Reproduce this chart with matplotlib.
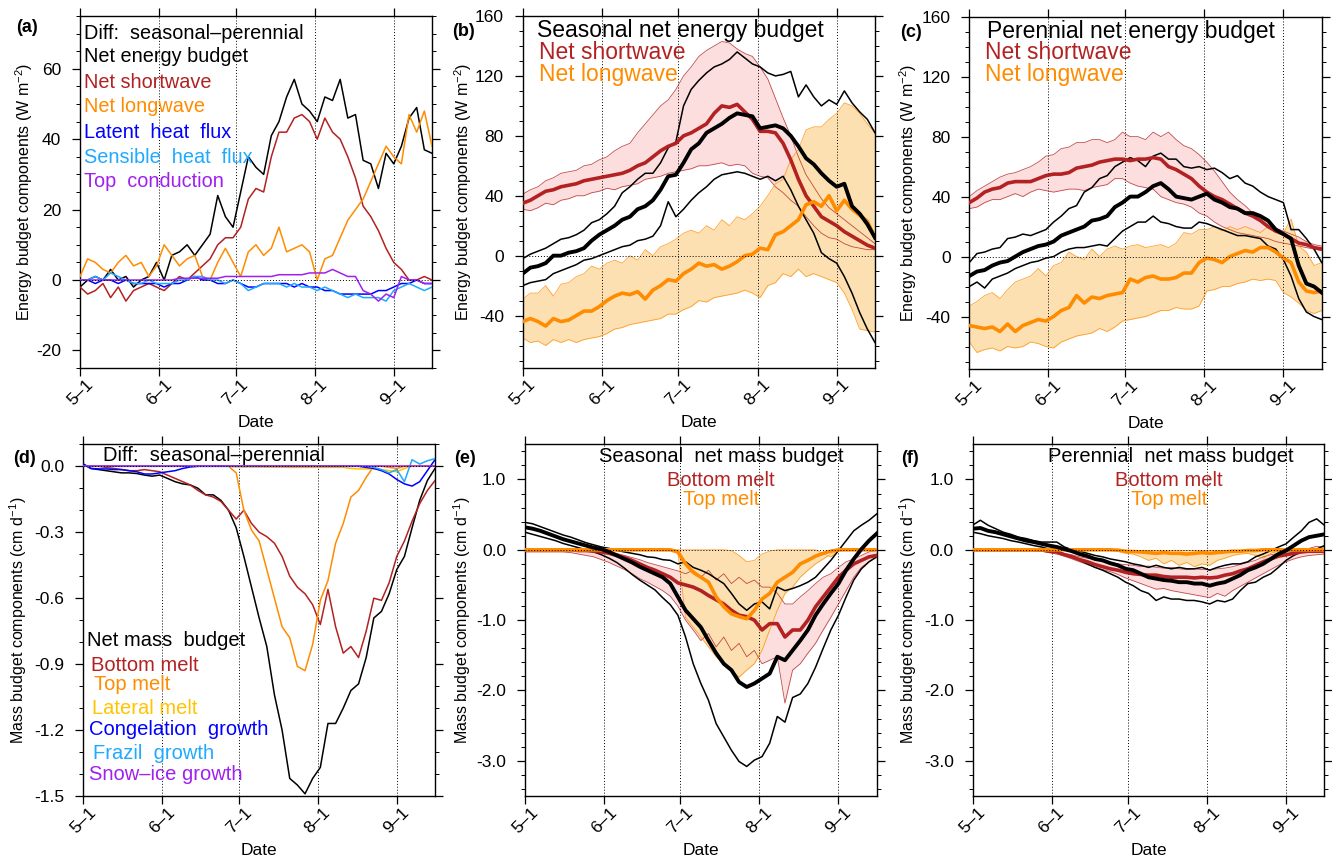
import numpy as np
import matplotlib
matplotlib.use("Agg")
import matplotlib.pyplot as plt
from matplotlib.ticker import MultipleLocator

plt.rcParams["font.family"] = ["Liberation Sans", "DejaVu Sans"]
plt.rcParams["axes.unicode_minus"] = False
plt.rcParams["mathtext.default"] = "regular"

# days since May 1, one reading every third day (0 .. 138)
days = np.arange(0, 139, 3)
month_days = [0, 31, 61, 92, 123]
month_labels = ["5–1", "6–1", "7–1", "8–1", "9–1"]

RED = "#B22222"
ORANGE = "#FF8C00"
PINK_FILL = "#FDDEDE"
ORANGE_FILL = "#FDE0B2"

# ---- (a) energy budget difference, seasonal - perennial (W m-2)
a_net = [-2, 0, 1, 0, 3, 0, 1, -2, 0, 1, 5, 0, 7, 8, 10, 7, 10, 13, 24, 18, 15, 25, 35, 32, 30, 41, 45, 52, 57, 50, 48, 45, 52, 51, 57, 46, 47, 34, 33, 26, 36, 33, 38, 46, 49, 37, 36]
a_sw = [-2, -4, -3, -1, -5, -2, -6, -3, -2, -1, -2, -3, -1, 1, 0, 2, 4, 6, 10, 12, 12, 15, 23, 26, 25, 35, 42, 42, 46, 47, 45, 40, 46, 42, 40, 35, 29, 21, 18, 14, 9, 5, 3, 0, 0, 1, 0]
a_lw = [1, 6, 5, 3, 2, 5, 7, 4, 5, 1, 4, 10, 7, 4, 6, 7, 1, 0, 5, 9, 5, 1, 8, 10, 7, 9, 15, 8, 9, 10, 8, 0, 6, 7, 12, 17, 20, 23, 28, 33, 38, 35, 33, 47, 42, 48, 38]
a_lat = [0, 0, -1, 0, 0, -1, 0, -1, -1, -1, -1, -2, -1, -1, 0, 1, 0, 0, -1, -1, 0, -1, -2, -2, -1, -1, -1, -1, -2, -1, -2, -2, -3, -3, -4, -4, -4, -4, -4, -3, -3, -2, -1, -1, 0, -1, -1]
a_sen = [0, 0, 1, 0, 2, 1, 0, -1, -1, 0, -1, -1, -1, 0, 0, 1, 1, 0, 0, -1, 0, -1, -3, -2, -1, -1, -1, -2, -1, -2, -2, -3, -2, -3, -4, -5, -4, -5, -5, -5, -6, -3, -2, -1, -2, -3, -2]
a_cond = [0, 0, 0, 0, 0, 0, 0, 0, 0, 0, 0, 0, 0, 0.5, 0.5, 0.5, 0.5, 0.5, 0.5, 1, 1, 1, 1, 1, 1, 1, 1.5, 1.5, 1.5, 1.5, 2, 2, 2, 3, 2, 1, 1, -3, -4, -6, -4, -5, 1, 0, 0, -1, -1]

# ---- (b) seasonal energy budget: mean, upper, lower
b_net = [-12, -8, -7, -5, 0, 0, 2, 3, 5, 10, 14, 17, 20, 24, 26, 31, 33, 37, 44, 53, 54, 62, 71, 75, 82, 85, 88, 92, 95, 94, 93, 85, 86, 87, 85, 80, 73, 65, 61, 55, 50, 46, 48, 33, 28, 21, 12]
b_net_hi = [-2, 1, 3, 5, 8, 11, 12, 14, 17, 22, 24, 28, 33, 42, 46, 51, 55, 55, 62, 72, 76, 100, 111, 117, 122, 126, 128, 131, 136, 132, 128, 126, 122, 120, 121, 123, 106, 114, 106, 100, 104, 101, 110, 102, 96, 91, 82]
b_net_lo = [-20, -18, -17, -16, -12, -10, -8, -6, -3, -2, 0, 2, 4, 6, 7, 10, 11, 13, 20, 36, 26, 31, 37, 42, 46, 51, 54, 55, 56, 55, 53, 51, 53, 50, 53, 44, 33, 24, 15, 2, -2, -5, -14, -25, -38, -49, -58]
b_sw = [35, 37, 40, 43, 44, 46, 47, 48, 50, 51, 52, 53, 54, 55, 57, 60, 62, 66, 70, 73, 75, 80, 82, 85, 88, 95, 100, 99, 101, 96, 91, 83, 83, 82, 75, 64, 51, 40, 33, 26, 23, 20, 16, 13, 10, 7, 5]
b_sw_hi = [41, 44, 46, 50, 52, 55, 56, 57, 60, 61, 64, 66, 70, 73, 75, 82, 88, 94, 100, 104, 111, 120, 126, 133, 137, 140, 143, 142, 138, 135, 133, 126, 118, 105, 92, 80, 66, 54, 46, 38, 32, 28, 24, 20, 16, 12, 8]
b_sw_lo = [31, 30, 32, 35, 34, 37, 38, 40, 40, 42, 43, 45, 44, 46, 47, 48, 51, 52, 53, 55, 56, 57, 58, 60, 60, 61, 62, 60, 61, 60, 55, 53, 52, 46, 42, 37, 33, 26, 20, 15, 12, 11, 8, 6, 5, 4, 4]
b_lw = [-44, -42, -44, -47, -42, -44, -43, -40, -37, -37, -34, -30, -27, -25, -26, -24, -29, -23, -20, -16, -17, -12, -9, -5, -7, -6, -9, -7, -4, 0, 1, 5, 4, 14, 16, 20, 24, 34, 36, 33, 40, 30, 37, 31, 27, 23, 12]
b_lw_hi = [-29, -25, -25, -20, -27, -19, -18, -14, -12, -7, -9, -5, -3, -5, 0, -3, 4, 0, 6, 8, 11, 15, 17, 15, 20, 17, 24, 20, 26, 24, 28, 33, 40, 48, 51, 64, 71, 84, 86, 86, 91, 95, 102, 100, 95, 88, 82]
b_lw_lo = [-55, -58, -57, -60, -56, -58, -56, -58, -56, -55, -54, -52, -49, -48, -46, -45, -44, -43, -42, -39, -39, -36, -34, -30, -31, -28, -27, -26, -25, -23, -25, -28, -20, -18, -12, -14, -9, -14, -12, -14, -16, -18, -25, -36, -49, -50, -51]

# ---- (c) perennial energy budget
c_net = [-13, -10, -9, -6, -4, -3, 0, 3, 5, 7, 8, 10, 14, 16, 18, 20, 24, 25, 27, 33, 36, 40, 40, 43, 47, 49, 45, 40, 39, 38, 40, 42, 38, 36, 33, 32, 29, 29, 27, 24, 18, 15, 12, -6, -18, -20, -24]
c_net_hi = [-4, 2, 3, 5, 6, 12, 13, 15, 14, 16, 18, 23, 27, 32, 34, 43, 46, 52, 54, 60, 63, 66, 64, 60, 67, 69, 65, 65, 60, 59, 60, 58, 59, 56, 52, 54, 49, 47, 43, 40, 38, 36, 18, 18, 12, 5, -4]
c_net_lo = [-20, -17, -21, -15, -13, -11, -8, -6, -4, -3, -1, 0, 3, 5, 6, 6, 7, 8, 7, 12, 17, 20, 23, 23, 27, 23, 22, 20, 19, 19, 23, 22, 20, 18, 16, 14, 14, 13, 12, 7, 5, -2, -13, -28, -37, -40, -42]
c_sw = [36, 39, 43, 45, 46, 49, 50, 50, 50, 52, 54, 55, 55, 56, 59, 60, 61, 63, 64, 65, 65, 64, 65, 65, 66, 65, 60, 58, 55, 52, 47, 43, 40, 38, 35, 32, 29, 27, 24, 20, 17, 15, 12, 9, 8, 6, 5]
c_sw_hi = [40, 44, 47, 50, 53, 55, 56, 58, 60, 63, 67, 68, 72, 73, 76, 76, 78, 78, 76, 78, 83, 80, 80, 78, 83, 80, 83, 78, 74, 72, 68, 63, 57, 50, 43, 38, 34, 29, 26, 23, 19, 17, 15, 13, 10, 8, 7]
c_sw_lo = [32, 33, 36, 38, 38, 40, 42, 40, 43, 45, 44, 43, 44, 45, 45, 44, 46, 47, 48, 52, 52, 49, 47, 46, 45, 40, 38, 36, 35, 33, 29, 27, 23, 20, 18, 16, 15, 14, 13, 12, 10, 9, 8, 7, 6, 5, 4]
c_lw = [-46, -47, -48, -47, -50, -45, -50, -46, -44, -42, -43, -40, -36, -34, -26, -31, -27, -28, -26, -25, -24, -15, -17, -14, -13, -15, -15, -14, -11, -11, -4, -1, -2, -4, 0, 2, 4, 3, 6, 6, 3, -1, -4, -17, -23, -24, -23]
c_lw_hi = [-33, -30, -26, -24, -28, -22, -17, -15, -13, -8, -13, -6, -4, 3, 0, -2, 5, 0, 5, 7, 5, 7, 8, 6, 7, 8, 6, 9, 16, 15, 18, 18, 20, 17, 20, 18, 20, 18, 16, 20, 16, 16, 25, 7, 3, -6, -4]
c_lw_lo = [-57, -64, -62, -61, -63, -60, -61, -60, -57, -58, -60, -61, -57, -55, -53, -52, -51, -48, -50, -47, -43, -42, -41, -40, -38, -36, -36, -34, -35, -35, -33, -23, -22, -20, -20, -18, -17, -15, -16, -15, -16, -24, -27, -31, -36, -38, -36]

# ---- (d) mass budget difference, seasonal - perennial (cm d-1)
d_net = [0.01, -0.01, -0.015, -0.02, -0.025, -0.03, -0.03, -0.033, -0.04, -0.045, -0.04, -0.055, -0.07, -0.08, -0.085, -0.10, -0.13, -0.13, -0.155, -0.20, -0.28, -0.41, -0.55, -0.69, -0.82, -1.04, -1.20, -1.42, -1.45, -1.49, -1.42, -1.37, -1.17, -1.17, -1.10, -1.02, -0.99, -0.87, -0.69, -0.66, -0.58, -0.47, -0.41, -0.28, -0.155, -0.065, -0.01]
d_bot = [0, 0, 0, -0.005, -0.01, -0.015, -0.02, -0.02, -0.015, -0.02, -0.025, -0.04, -0.055, -0.07, -0.085, -0.11, -0.13, -0.14, -0.16, -0.20, -0.24, -0.20, -0.26, -0.30, -0.32, -0.35, -0.41, -0.50, -0.55, -0.58, -0.63, -0.72, -0.56, -0.73, -0.85, -0.82, -0.87, -0.75, -0.60, -0.61, -0.53, -0.41, -0.34, -0.25, -0.17, -0.11, -0.065]
d_top = [0, 0, 0, 0, 0, 0, 0, 0, 0, 0, 0, 0, 0, 0, 0, 0, 0, 0, 0, 0, -0.03, -0.20, -0.29, -0.34, -0.47, -0.60, -0.73, -0.78, -0.91, -0.93, -0.81, -0.61, -0.52, -0.35, -0.26, -0.14, -0.11, -0.05, 0, 0, -0.005, -0.01, 0, 0, 0, 0, 0]
d_lat = [0, 0, 0, 0, 0, 0, 0, 0, 0, 0, 0, 0, 0, 0, 0, 0, 0, 0, 0, 0, -0.003, -0.003, -0.003, -0.003, -0.004, -0.004, -0.004, -0.005, -0.005, -0.005, -0.005, -0.005, -0.005, -0.005, -0.005, -0.01, -0.012, -0.012, -0.012, -0.015, -0.02, -0.025, -0.01, 0, 0, 0, 0]
d_cong = [0.01, -0.01, -0.012, -0.012, -0.015, -0.015, -0.02, -0.025, -0.035, -0.035, -0.03, -0.025, -0.02, -0.01, -0.003, 0, 0, 0, 0, 0, 0, 0, 0, 0, 0, 0, 0, 0, 0, 0, 0, 0, 0, 0, 0, 0, 0, -0.005, -0.01, -0.02, -0.035, -0.06, -0.08, -0.09, -0.07, -0.02, 0.03]
d_fraz = [0, 0, 0, 0, 0, 0, 0, 0, 0, 0, 0, 0, 0, 0, 0, 0, 0, 0, 0, 0, 0, 0, 0, 0, 0, 0, 0, 0, 0, 0, 0, 0, 0, 0, 0, 0, 0, 0, -0.005, -0.015, -0.03, -0.015, -0.07, 0.03, 0.01, 0.025, 0.035]
d_snow = [0, 0, 0, 0, 0, 0, 0, 0, 0, 0, 0, 0, 0, 0, 0, 0, 0, 0, 0, 0, 0, 0, 0, 0, 0, 0, 0, 0, 0, 0, 0, 0, 0, 0, 0, 0, 0, 0, 0, 0, 0, 0, 0, 0, 0, 0, 0]

# ---- (e) seasonal mass budget
e_net = [0.32, 0.30, 0.27, 0.23, 0.19, 0.15, 0.12, 0.09, 0.06, 0.03, 0.01, -0.03, -0.08, -0.13, -0.18, -0.24, -0.29, -0.34, -0.39, -0.48, -0.67, -0.86, -0.98, -1.10, -1.29, -1.47, -1.62, -1.71, -1.88, -1.95, -1.90, -1.83, -1.76, -1.52, -1.57, -1.43, -1.29, -1.14, -0.93, -0.77, -0.62, -0.48, -0.29, -0.13, 0.01, 0.13, 0.23]
e_net_hi = [0.39, 0.37, 0.33, 0.29, 0.25, 0.21, 0.18, 0.14, 0.10, 0.07, 0.04, 0.02, -0.01, -0.03, -0.05, -0.07, -0.10, -0.11, -0.14, -0.15, -0.20, -0.17, -0.25, -0.29, -0.34, -0.41, -0.48, -0.62, -0.77, -0.86, -0.77, -0.74, -0.84, -0.53, -0.58, -0.55, -0.51, -0.46, -0.39, -0.27, -0.15, -0.01, 0.13, 0.27, 0.35, 0.42, 0.51]
e_net_lo = [0.25, 0.22, 0.19, 0.16, 0.13, 0.09, 0.06, 0.03, 0.0, -0.03, -0.07, -0.12, -0.18, -0.26, -0.35, -0.43, -0.50, -0.57, -0.68, -0.78, -0.93, -1.24, -1.62, -1.90, -2.14, -2.47, -2.66, -2.85, -3.01, -3.08, -2.99, -2.94, -2.75, -2.37, -2.45, -2.10, -2.05, -1.90, -1.67, -1.40, -1.14, -0.93, -0.67, -0.43, -0.27, -0.17, -0.10]
e_bot = [0, 0, 0, 0, 0, 0, 0, -0.01, -0.01, -0.02, -0.03, -0.05, -0.08, -0.11, -0.15, -0.20, -0.25, -0.29, -0.34, -0.39, -0.47, -0.50, -0.53, -0.58, -0.65, -0.71, -0.77, -0.86, -0.93, -0.95, -1.00, -1.14, -1.05, -1.05, -1.24, -1.14, -1.14, -1.00, -0.81, -0.67, -0.53, -0.39, -0.29, -0.20, -0.15, -0.10, -0.08]
e_bot_hi = [0, 0, 0, 0, 0, 0, 0, 0, -0.01, -0.01, -0.02, -0.03, -0.05, -0.08, -0.11, -0.14, -0.18, -0.21, -0.24, -0.27, -0.30, -0.34, -0.29, -0.39, -0.29, -0.43, -0.34, -0.48, -0.39, -0.48, -0.43, -0.53, -0.53, -0.62, -0.77, -0.77, -0.67, -0.58, -0.48, -0.39, -0.34, -0.25, -0.17, -0.13, -0.08, -0.03, -0.01]
e_bot_lo = [-0.03, -0.03, -0.03, -0.03, -0.03, -0.03, -0.04, -0.06, -0.08, -0.10, -0.14, -0.18, -0.23, -0.28, -0.34, -0.41, -0.46, -0.52, -0.58, -0.66, -0.80, -1.00, -1.14, -1.29, -1.19, -1.38, -1.24, -1.43, -1.33, -1.52, -1.43, -1.62, -1.57, -1.52, -2.18, -1.71, -1.62, -1.47, -1.33, -1.14, -0.96, -0.77, -0.58, -0.39, -0.25, -0.17, -0.10]
e_top = [0, 0, 0, 0, 0, 0, 0, 0, 0, 0, 0, 0, 0, 0, 0, 0, 0, 0, 0, 0, -0.03, -0.20, -0.32, -0.39, -0.46, -0.67, -0.81, -0.91, -0.95, -0.98, -0.86, -0.70, -0.62, -0.46, -0.39, -0.32, -0.20, -0.15, -0.09, -0.05, -0.02, 0, 0, 0, 0, 0, 0]
e_top_hi = [0, 0, 0, 0, 0, 0, 0, 0, 0, 0, 0, 0, 0, 0, 0, 0, 0, 0, 0, 0, 0, 0, 0, 0, 0, 0, 0, -0.01, -0.08, -0.17, -0.15, -0.06, -0.02, 0, 0, 0, 0, 0, 0, -0.05, -0.10, -0.02, 0, 0, 0, 0, 0]
e_top_lo = [0, 0, 0, 0, 0, 0, 0, 0, 0, 0, 0, 0, 0, 0, 0, 0, 0, 0, 0, 0, -0.05, -0.96, -1.10, -1.24, -1.38, -1.52, -1.62, -1.71, -1.81, -1.71, -1.62, -1.43, -1.14, -0.86, -0.62, -0.53, -0.39, -0.29, -0.20, -0.13, -0.06, -0.01, 0, 0, 0, 0, 0]

# ---- (f) perennial mass budget
f_net = [0.30, 0.31, 0.27, 0.25, 0.22, 0.19, 0.16, 0.13, 0.11, 0.085, 0.06, 0.04, 0.01, -0.02, -0.06, -0.09, -0.13, -0.15, -0.19, -0.22, -0.27, -0.29, -0.34, -0.39, -0.41, -0.43, -0.44, -0.46, -0.46, -0.48, -0.48, -0.51, -0.48, -0.46, -0.41, -0.36, -0.29, -0.25, -0.20, -0.13, -0.06, -0.01, 0.06, 0.13, 0.18, 0.20, 0.22]
f_net_hi = [0.35, 0.42, 0.35, 0.30, 0.25, 0.22, 0.18, 0.16, 0.13, 0.11, 0.11, 0.11, 0.04, 0, -0.02, -0.05, -0.08, -0.10, -0.13, -0.15, -0.17, -0.20, -0.22, -0.25, -0.22, -0.25, -0.27, -0.25, -0.27, -0.27, -0.25, -0.29, -0.25, -0.22, -0.20, -0.20, -0.17, -0.10, -0.06, -0.01, 0.04, 0.085, 0.18, 0.27, 0.39, 0.44, 0.35]
f_net_lo = [0.25, 0.23, 0.20, 0.18, 0.16, 0.13, 0.11, 0.085, 0.06, 0.04, 0.01, -0.02, -0.07, -0.10, -0.15, -0.20, -0.25, -0.29, -0.34, -0.39, -0.46, -0.51, -0.58, -0.62, -0.72, -0.67, -0.70, -0.70, -0.72, -0.72, -0.74, -0.77, -0.72, -0.74, -0.70, -0.58, -0.48, -0.46, -0.39, -0.34, -0.25, -0.15, -0.08, -0.03, -0.01, 0.01, 0.06]
f_bot = [0, 0, 0, 0, 0, 0, 0, 0, 0, 0, -0.02, -0.03, -0.07, -0.10, -0.14, -0.17, -0.21, -0.24, -0.27, -0.29, -0.32, -0.34, -0.35, -0.36, -0.36, -0.38, -0.39, -0.39, -0.39, -0.40, -0.39, -0.40, -0.39, -0.36, -0.34, -0.30, -0.27, -0.22, -0.17, -0.13, -0.09, -0.07, -0.05, -0.03, -0.02, -0.02, -0.02]
f_bot_hi = [0, 0, 0, 0, 0, 0, 0, 0, 0, 0, -0.01, -0.02, -0.05, -0.07, -0.10, -0.12, -0.14, -0.16, -0.18, -0.20, -0.21, -0.22, -0.24, -0.23, -0.25, -0.26, -0.25, -0.27, -0.28, -0.27, -0.28, -0.28, -0.27, -0.26, -0.24, -0.21, -0.18, -0.15, -0.10, -0.07, -0.05, -0.03, -0.02, 0.0, 0.02, 0.05, 0.04]
f_bot_lo = [-0.01, -0.01, -0.01, -0.01, -0.01, -0.01, -0.01, -0.01, -0.01, -0.02, -0.04, -0.06, -0.09, -0.13, -0.17, -0.21, -0.25, -0.28, -0.31, -0.35, -0.40, -0.44, -0.48, -0.52, -0.56, -0.55, -0.58, -0.60, -0.62, -0.64, -0.66, -0.68, -0.62, -0.66, -0.58, -0.52, -0.46, -0.40, -0.34, -0.28, -0.22, -0.17, -0.13, -0.10, -0.08, -0.07, -0.06]
f_top = [0, 0, 0, 0, 0, 0, 0, 0, 0, 0, 0, 0, 0, 0, 0, 0, 0, 0, 0, -0.005, -0.02, -0.025, -0.03, -0.04, -0.05, -0.04, -0.05, -0.05, -0.06, -0.05, -0.04, -0.05, -0.04, -0.03, -0.02, -0.02, -0.01, -0.01, 0, 0, 0, 0, 0, 0, 0, 0, 0]
f_top_hi = [0, 0, 0, 0, 0, 0, 0, 0, 0, 0, 0, 0, 0, 0, 0, 0, 0, 0, 0, 0, 0, 0, 0, 0, 0, 0, 0, 0, 0, 0, 0, 0, 0, 0, 0, 0, 0, 0, 0, 0, 0, 0, 0, 0, 0, 0, 0]
f_top_lo = [0, 0, 0, 0, 0, 0, 0, 0, 0, 0, 0, 0, 0, 0, 0, 0, 0, 0, 0, -0.02, -0.05, -0.06, -0.10, -0.15, -0.12, -0.20, -0.15, -0.22, -0.18, -0.24, -0.20, -0.22, -0.15, -0.12, -0.08, -0.06, -0.05, -0.08, -0.12, -0.05, -0.02, 0, 0, 0, 0, 0, 0]

fig = plt.figure(figsize=(13.32, 8.6), dpi=100)
W, H = 1332.0, 860.0


def add_axes(left, top, w, h):
    return fig.add_axes([left / W, 1 - (top + h) / H, w / W, h / H])


def style(ax, ylim, yticks, ylabels, minor, ylabel, ylab_x, tag, tag_xy):
    ax.set_xlim(0, 138)
    ax.set_ylim(ylim)
    ax.set_xticks(month_days)
    ax.set_xticklabels(month_labels, rotation=45)
    ax.set_yticks(yticks)
    ax.set_yticklabels(ylabels)
    ax.yaxis.set_minor_locator(MultipleLocator(minor))
    ax.tick_params(which="both", direction="out", top=True, right=True)
    ax.tick_params(which="major", length=5.5, width=0.9, labelsize=12.5)
    ax.tick_params(axis="y", which="major", pad=8)
    ax.tick_params(axis="x", which="major", pad=1)
    ax.tick_params(which="minor", length=3, width=0.7)
    for sp in ax.spines.values():
        sp.set_linewidth(1.0)
    for d in month_days[1:]:
        ax.axvline(d, color="k", ls=(0, (1, 2)), lw=0.7, zorder=1.5)
    ax.axhline(0, color="k", ls=(0, (1, 2)), lw=0.7, zorder=8)
    ax.set_xlabel("Date", fontsize=12.5)
    ax.xaxis.set_label_coords(0.5, -0.134)
    ax.set_ylabel(ylabel, fontsize=11.5)
    ax.yaxis.set_label_coords(ylab_x, 0.5)
    ax.text(tag_xy[0], tag_xy[1], tag, transform=ax.transAxes, ha="center",
            va="center", fontsize=13, fontweight="bold")


def labels(ax, items, size, ha="left"):
    for x, y, s, c in items:
        ax.text(x, y, s, color=c, fontsize=size, transform=ax.transAxes,
                ha=ha, va="center", zorder=10)


def envelope_panel(ax, net, net_hi, net_lo, r, r_hi, r_lo, o, o_hi, o_lo):
    ax.fill_between(days, r_lo, r_hi, color=PINK_FILL, lw=0, zorder=1)
    ax.fill_between(days, o_lo, o_hi, color=ORANGE_FILL, lw=0, zorder=1.2)
    for s in (r_hi, r_lo):
        ax.plot(days, s, color=RED, lw=0.6, alpha=0.8, zorder=2)
    for s in (o_hi, o_lo):
        ax.plot(days, s, color=ORANGE, lw=0.6, alpha=0.8, zorder=2)
    for s in (net_hi, net_lo):
        ax.plot(days, s, color="k", lw=1.1, zorder=3)
    ax.plot(days, r, color=RED, lw=2.6, zorder=4)
    ax.plot(days, o, color=ORANGE, lw=2.6, zorder=4)
    ax.plot(days, net, color="k", lw=2.8, zorder=5)


energy_label = "Energy budget components (W m$^{-2}$)"
mass_label = "Mass budget components (cm d$^{-1}$)"
e_ticks = [-40, 0, 40, 80, 120, 160]
e_ticklabels = ["-40", "0", "40", "80", "120", "160"]
m_ticks = [-3, -2, -1, 0, 1]
m_ticklabels = ["-3.0", "-2.0", "-1.0", "0.0", "1.0"]

# (a)
ax = add_axes(80, 16, 352, 352)
ax.plot(days, a_net, color="k", lw=1.1, zorder=3)
ax.plot(days, a_sw, color=RED, lw=1.1, zorder=3)
ax.plot(days, a_lw, color=ORANGE, lw=1.1, zorder=3)
ax.plot(days, a_lat, color="#0000FF", lw=1.1, zorder=3)
ax.plot(days, a_sen, color="#1EAAFF", lw=1.1, zorder=3)
ax.plot(days, a_cond, color="#A020F0", lw=1.1, zorder=3)
style(ax, (-25, 75), [-20, 0, 20, 40, 60], ["-20", "0", "20", "40", "60"], 5,
      energy_label, -0.128, "(a)", (-0.15, 0.966))
labels(ax, [(0.011, 0.949, "Diff:  seasonal–perennial", "k"),
            (0.011, 0.884, "Net energy budget", "k"),
            (0.011, 0.810, "Net shortwave", RED),
            (0.011, 0.744, "Net longwave", ORANGE),
            (0.011, 0.668, "Latent  heat  flux", "#0000FF"),
            (0.011, 0.599, "Sensible  heat  flux", "#1EAAFF"),
            (0.011, 0.531, "Top  conduction", "#A020F0")], 14.3)

# (b)
ax = add_axes(522.7, 16, 352.3, 352)
envelope_panel(ax, b_net, b_net_hi, b_net_lo, b_sw, b_sw_hi, b_sw_lo, b_lw, b_lw_hi, b_lw_lo)
style(ax, (-75, 160), e_ticks, e_ticklabels, 10, energy_label, -0.137, "(b)", (-0.168, 0.955))
labels(ax, [(0.041, 0.960, "Seasonal net energy budget", "k"),
            (0.046, 0.895, "Net shortwave", RED),
            (0.046, 0.835, "Net longwave", ORANGE)], 16.5)

# (c)
ax = add_axes(969.3, 16.7, 352.4, 352.3)
envelope_panel(ax, c_net, c_net_hi, c_net_lo, c_sw, c_sw_hi, c_sw_lo, c_lw, c_lw_hi, c_lw_lo)
style(ax, (-75, 160), e_ticks, e_ticklabels, 10, energy_label, -0.142, "(c)", (-0.166, 0.955))
labels(ax, [(0.050, 0.957, "Perennial net energy budget", "k"),
            (0.045, 0.897, "Net shortwave", RED),
            (0.045, 0.837, "Net longwave", ORANGE)], 16.5)

# (d)
ax = add_axes(83.3, 444.3, 351.7, 351.7)
ax.plot(days, d_net, color="k", lw=1.1, zorder=3)
ax.plot(days, d_bot, color=RED, lw=1.1, zorder=3)
ax.plot(days, d_top, color=ORANGE, lw=1.1, zorder=3)
ax.plot(days, d_lat, color="#FFC400", lw=1.1, zorder=3)
ax.plot(days, d_cong, color="#0000FF", lw=1.1, zorder=3)
ax.plot(days, d_fraz, color="#1EAAFF", lw=1.1, zorder=3)
ax.plot(days, d_snow, color="#A020F0", lw=1.1, zorder=3)
style(ax, (-1.5, 0.1), [-1.5, -1.2, -0.9, -0.6, -0.3, 0.0],
      ["-1.5", "-1.2", "-0.9", "-0.6", "-0.3", "0.0"], 0.1,
      mass_label, -0.153, "(d)", (-0.166, 0.959))
labels(ax, [(0.056, 0.967, "Diff:  seasonal–perennial", "k"),
            (0.011, 0.441, "Net mass  budget", "k"),
            (0.022, 0.372, "Bottom melt", RED),
            (0.030, 0.316, "Top melt", ORANGE),
            (0.025, 0.250, "Lateral melt", "#FFC400"),
            (0.016, 0.190, "Congelation  growth", "#0000FF"),
            (0.028, 0.122, "Frazil  growth", "#1EAAFF"),
            (0.016, 0.060, "Snow–ice growth", "#A020F0")], 14.5)

# (e)
ax = add_axes(525, 444.3, 351.7, 351.7)
envelope_panel(ax, e_net, e_net_hi, e_net_lo, e_bot, e_bot_hi, e_bot_lo, e_top, e_top_hi, e_top_lo)
style(ax, (-3.5, 1.5), m_ticks, m_ticklabels, 0.2, mass_label, -0.148, "(e)", (-0.171, 0.96))
labels(ax, [(0.557, 0.964, "Seasonal  net mass budget", "k"),
            (0.557, 0.898, "Bottom melt", RED),
            (0.557, 0.844, "Top melt", ORANGE)], 14.5, ha="center")

# (f)
ax = add_axes(972.7, 444.3, 351.6, 351.7)
envelope_panel(ax, f_net, f_net_hi, f_net_lo, f_bot, f_bot_hi, f_bot_lo, f_top, f_top_hi, f_top_lo)
style(ax, (-3.5, 1.5), m_ticks, m_ticklabels, 0.2, mass_label, -0.153, "(f)", (-0.178, 0.96))
labels(ax, [(0.564, 0.964, "Perennial  net mass budget", "k"),
            (0.558, 0.898, "Bottom melt", RED),
            (0.558, 0.844, "Top melt", ORANGE)], 14.5, ha="center")

fig.savefig("out.png", dpi=100)
